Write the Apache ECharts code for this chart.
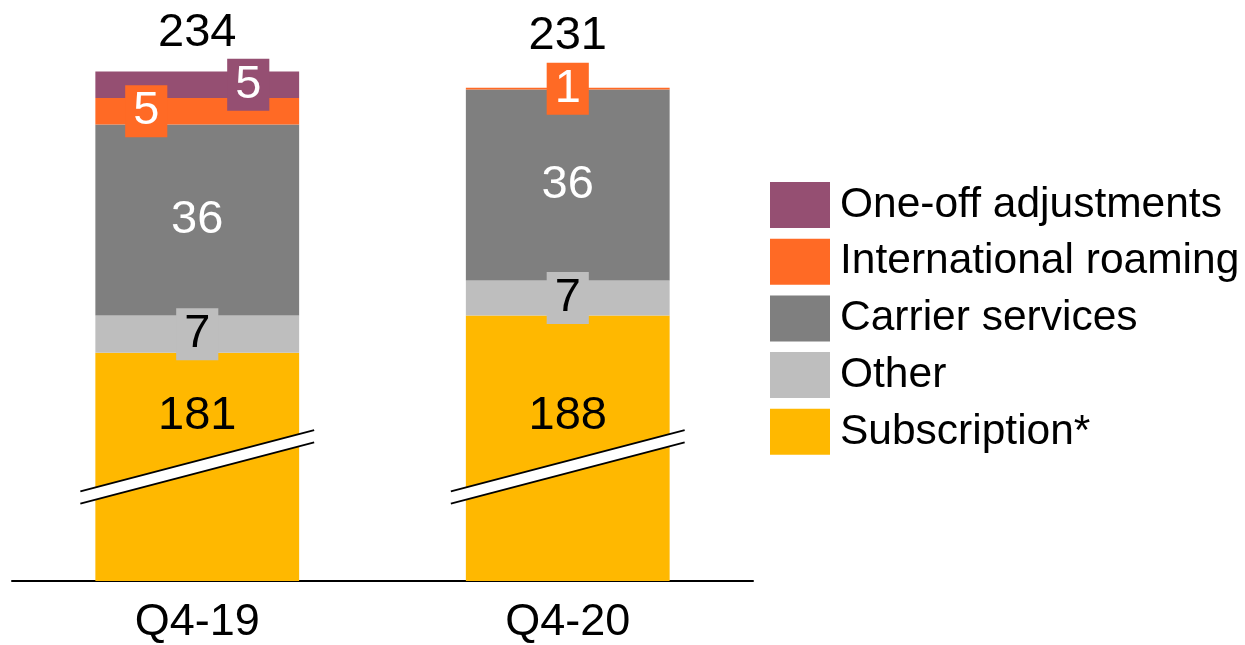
<!DOCTYPE html>
<html>
<head>
<meta charset="utf-8">
<script src="https://cdn.jsdelivr.net/npm/echarts@6/dist/echarts.min.js"></script>
<style>
html,body{margin:0;padding:0;background:#fff;}
#chart{width:1245px;height:645px;}
</style>
</head>
<body>
<div id="chart"></div>
<script>
// ---- data ----
const categories = ['Q4-19', 'Q4-20'];
const subscription = [181, 188];
const other = [7, 6.6];
const carrier = [36, 36];
const intlRoaming = [5, 0.3];
const oneOff = [5, 0];
const totals = ['234', '231'];
const subscriptionLabels = ['181', '188'];
const otherLabels = ['7', '7'];
const carrierLabels = ['36', '36'];
const intlLabels = ['5', '1'];
const oneOffLabels = ['5', ''];
const seriesNames = ['Subscription*', 'Other', 'Carrier services', 'International roaming', 'One-off adjustments'];
const legendOrder = ['One-off adjustments', 'International roaming', 'Carrier services', 'Other', 'Subscription*'];

// ---- styles ----
const FONT = 'Liberation Sans, Arial, sans-serif';
const NUM_SIZE = 47;
const colors = {
  sub: '#FFB800',
  other: '#BEBEBE',
  carrier: '#7F7F7F',
  intl: '#FF6A25',
  oneOff: '#954F72'
};
const AXIS_MIN = 138, AXIS_MAX = 245;
const BREAK_VALUE = 159.5;
const BAR_FRAC = 0.55;

const chart = echarts.init(document.getElementById('chart'), null, {renderer: 'canvas'});

function boxLabel(bg, color, extra) {
  return Object.assign({
    show: true,
    fontFamily: FONT,
    fontSize: NUM_SIZE,
    lineHeight: 44,
    color: color,
    backgroundColor: bg,
    padding: [4, 8, 4, 8],
    position: 'inside'
  }, extra || {});
}

function items(values, labels, perItem) {
  return values.map((v, i) => {
    const it = {value: v, label: {formatter: labels[i]}};
    if (perItem && perItem[i]) Object.assign(it.label, perItem[i]);
    if (!labels[i]) it.label.show = false;
    return it;
  });
}

const option = {
  animation: false,
  backgroundColor: '#ffffff',
  grid: {left: 12, right: 492, top: 13, bottom: 62, containLabel: false},
  legend: {
    orient: 'vertical',
    left: 765,
    top: 177,
    itemWidth: 60,
    itemHeight: 46,
    itemGap: 10.7,
    icon: 'rect',
    data: legendOrder,
    selectedMode: false,
    textStyle: {fontFamily: FONT, fontSize: 42.5, color: '#000', padding: [0, 0, 0, 5]}
  },
  xAxis: {
    type: 'category',
    data: categories,
    axisLine: {show: true, lineStyle: {color: '#000', width: 2}},
    axisTick: {show: false},
    axisLabel: {fontFamily: FONT, fontSize: 45, color: '#000', margin: 19}
  },
  yAxis: {
    type: 'value',
    min: AXIS_MIN,
    max: AXIS_MAX,
    show: false,
    splitLine: {show: false}
  },
  series: [
    {
      name: seriesNames[0], type: 'bar', stack: 'a', barWidth: (BAR_FRAC * 100) + '%',
      itemStyle: {color: colors.sub},
      label: {show: true, position: 'insideTop', fontFamily: FONT, fontSize: NUM_SIZE, color: '#000'},
      data: items(subscription, subscriptionLabels, [{distance: 40}, {distance: 77}])
    },
    {
      name: seriesNames[1], type: 'bar', stack: 'a',
      itemStyle: {color: colors.other},
      label: boxLabel(colors.other, '#000'),
      data: items(other, otherLabels)
    },
    {
      name: seriesNames[2], type: 'bar', stack: 'a',
      itemStyle: {color: colors.carrier},
      label: {show: true, position: 'inside', fontFamily: FONT, fontSize: NUM_SIZE, color: '#fff'},
      data: items(carrier, carrierLabels)
    },
    {
      name: seriesNames[3], type: 'bar', stack: 'a',
      itemStyle: {color: colors.intl},
      label: boxLabel(colors.intl, '#fff'),
      data: items(intlRoaming, intlLabels, [{offset: [-51, 0]}, null])
    },
    {
      name: seriesNames[4], type: 'bar', stack: 'a',
      itemStyle: {color: colors.oneOff},
      label: boxLabel(colors.oneOff, '#fff'),
      data: items(oneOff, oneOffLabels, [{offset: [51, 0]}, null])
    },
    {
      name: 'total', type: 'bar', stack: 'a',
      itemStyle: {color: 'transparent'},
      label: {show: true, position: 'top', fontFamily: FONT, fontSize: NUM_SIZE, color: '#000'},
      data: items([0, 0], totals, [{distance: 15}, {distance: 28}])
    },
    {
      name: 'break', type: 'custom', z: 10,
      data: categories.map((c, i) => [i, BREAK_VALUE]),
      renderItem: function (params, api) {
        const c = api.coord([api.value(0), api.value(1)]);
        const bw = api.size([1, 0])[0] * BAR_FRAC;
        const half = bw / 2 + 15;
        const dy = half * 0.262;
        const gap = 12.4;
        const x1 = c[0] - half, x2 = c[0] + half;
        const u1 = [x1, c[1] + dy - gap / 2], u2 = [x2, c[1] - dy - gap / 2];
        const l1 = [x1, c[1] + dy + gap / 2], l2 = [x2, c[1] - dy + gap / 2];
        return {
          type: 'group',
          children: [
            {type: 'polygon', shape: {points: [u1, u2, l2, l1]}, style: {fill: '#fff'}},
            {type: 'line', shape: {x1: u1[0], y1: u1[1], x2: u2[0], y2: u2[1]}, style: {stroke: '#000', lineWidth: 1.8}},
            {type: 'line', shape: {x1: l1[0], y1: l1[1], x2: l2[0], y2: l2[1]}, style: {stroke: '#000', lineWidth: 1.8}}
          ]
        };
      }
    }
  ]
};
chart.setOption(option);
</script>
</body>
</html>
